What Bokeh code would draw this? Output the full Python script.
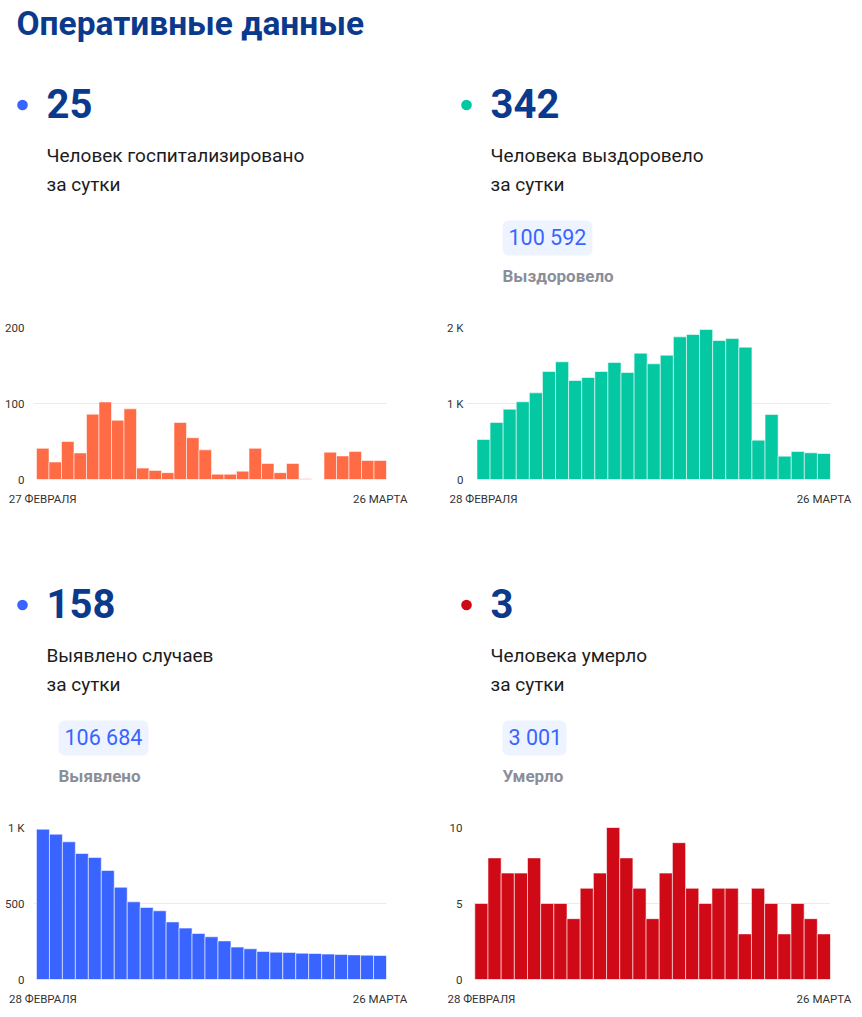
from bokeh.plotting import figure
from bokeh.layouts import column, row
from bokeh.models import Range1d, FixedTicker, ColumnDataSource
from bokeh.core.properties import value
from bokeh.embed import file_html
from bokeh.resources import INLINE

# ---------------- data ----------------
title_text = "Оперативные данные"

hosp_now = "25"
hosp_caption = ["Человек госпитализировано", "за сутки"]
hospitalized = [41, 23, 50, 35, 86, 102, 78, 93, 15, 12, 9, 75, 55, 39,
                7, 7, 11, 41, 21, 9, 21, 1, 0, 36, 31, 37, 25, 25]

rec_now = "342"
rec_caption = ["Человека выздоровело", "за сутки"]
rec_total = "100 592"
rec_total_label = "Выздоровело"
recovered = [526, 750, 925, 1022, 1140, 1421, 1548, 1303, 1342, 1421, 1539,
             1408, 1662, 1522, 1636, 1877, 1908, 1974, 1829, 1855, 1741,
             518, 855, 307, 368, 351, 342]

cases_now = "158"
cases_caption = ["Выявлено случаев", "за сутки"]
cases_total = "106 684"
cases_total_label = "Выявлено"
cases = [989, 956, 906, 829, 803, 717, 607, 511, 474, 452, 379, 338, 303,
         281, 254, 213, 202, 184, 180, 178, 173, 171, 167, 165, 162, 160, 158]

deaths_now = "3"
deaths_caption = ["Человека умерло", "за сутки"]
deaths_total = "3 001"
deaths_total_label = "Умерло"
deaths = [5, 8, 7, 7, 8, 5, 5, 4, 6, 7, 10, 8, 6, 4, 7, 9, 6, 5, 6, 6, 3,
          6, 5, 3, 5, 4, 3]

hosp_start = "27 ФЕВРАЛЯ"
other_start = "28 ФЕВРАЛЯ"
end_label = "26 МАРТА"

hosp_yticks = [0, 100, 200]
hosp_ylabels = ["0", "100", "200"]
rec_yticks = [0, 1000, 2000]
rec_ylabels = ["0", "1 K", "2 K"]
cases_yticks = [0, 500, 1000]
cases_ylabels = ["0", "500", "1 K"]
deaths_yticks = [0, 5, 10]
deaths_ylabels = ["0", "5", "10"]

# ---------------- styles ----------------
FONT = value("Roboto")
DARK_BLUE = "#0b3a8c"
BLUE = "#3a64ff"
GREEN = "#03c8a2"
RED = "#cf0a16"
ORANGE = "#ff6b45"
BADGE_BG = "#eef4ff"
GRAY = "#8a8e99"
TEXT = "#1c1c1c"
AXIS_TEXT = "#333333"

HEADER_W = 854
CHART_H = 193
BASE_K = 0.4  # baseline correction factor for svg text placement


def put_text(p, x, y, texts, size, color, bold=False):
    fs = float(size)
    ys = [yy - BASE_K * fs for yy in y]
    p.text(x=x, y=ys, text=texts, text_font=FONT,
           text_font_size=value(f"{size}px"),
           text_font_style="bold" if bold else "normal",
           text_color=color, text_baseline="alphabetic")


def header(with_title, panels, height, dy):
    p = figure(width=HEADER_W, height=height,
               x_range=Range1d(0, HEADER_W), y_range=Range1d(height, 0),
               output_backend="svg", toolbar_location=None, min_border=0)
    p.axis.visible = False
    p.grid.visible = False
    p.outline_line_color = None
    if with_title:
        put_text(p, [16], [28.5 + dy], [title_text], 33.5, DARK_BLUE,
                 bold=True)
    for pan in panels:
        x0 = pan["x"]
        p.circle(x=[x0 - 24], y=[96.5 + dy], radius=5.3,
                 fill_color=pan["dot"], line_color=None)
        put_text(p, [x0], [110.8 + dy], [pan["now"]], 40, DARK_BLUE,
                 bold=True)
        put_text(p, [x0, x0], [154.8 + dy, 184 + dy], pan["caption"], 19,
                 TEXT)
        if pan.get("total"):
            bx = x0 + 12
            p.quad(left=[bx], right=[bx + pan["bw"]], top=[212 + dy],
                   bottom=[247 + dy], fill_color=BADGE_BG, line_color=None,
                   border_radius=6)
            put_text(p, [bx + 6], [237.7 + dy], [pan["total"]], 21.5, BLUE)
            put_text(p, [bx], [274.3 + dy], [pan["total_label"]], 17, GRAY,
                     bold=True)
    return p


def bar_chart(vals, color, yticks, ylabels, start_label, width, border_left,
              border_right, x_start, standoff):
    n = len(vals)
    idx = list(range(n))
    p = figure(width=width, height=CHART_H,
               x_range=Range1d(x_start, n - 0.5),
               y_range=Range1d(yticks[0], yticks[-1]),
               output_backend="svg", toolbar_location=None,
               min_border_left=border_left, min_border_right=border_right,
               min_border_top=12, min_border_bottom=29)
    p.outline_line_color = None
    p.xgrid.visible = False
    p.ygrid.ticker = FixedTicker(ticks=yticks)
    p.ygrid.grid_line_color = "#ebebeb"
    p.ygrid.grid_line_width = 1
    src = ColumnDataSource(dict(x=idx, top=vals))
    p.vbar(x="x", top="top", width=1, source=src, fill_color=color,
           line_color="white", line_alpha=0.55, line_width=1)

    p.yaxis.ticker = FixedTicker(ticks=yticks)
    p.yaxis.major_label_overrides = {t: l for t, l in zip(yticks, ylabels)}
    p.xaxis.ticker = FixedTicker(ticks=[0, n - 1])
    p.xaxis.major_label_overrides = {0: start_label, n - 1: end_label}
    for ax in (p.xaxis, p.yaxis):
        ax.axis_line_color = None
        ax.major_tick_line_color = None
        ax.minor_tick_line_color = None
        ax.major_tick_out = 0
        ax.major_tick_in = 0
        ax.major_label_text_font = "Roboto"
        ax.major_label_text_color = AXIS_TEXT
    p.yaxis.major_label_text_font_size = "11.5px"
    p.yaxis.major_label_standoff = standoff
    p.xaxis.major_label_text_font_size = "11.5px"
    p.xaxis.major_label_standoff = 12
    return p


top_header = header(True, [
    dict(x=46, dot=BLUE, now=hosp_now, caption=hosp_caption),
    dict(x=490, dot=GREEN, now=rec_now, caption=rec_caption,
         total=rec_total, total_label=rec_total_label, bw=90),
], 315, 8)
bottom_header = header(False, [
    dict(x=46, dot=BLUE, now=cases_now, caption=cases_caption,
         total=cases_total, total_label=cases_total_label, bw=90),
    dict(x=490, dot=RED, now=deaths_now, caption=deaths_caption,
         total=deaths_total, total_label=deaths_total_label, bw=64),
], 307, 0)

c1 = bar_chart(hospitalized, ORANGE, hosp_yticks, hosp_ylabels, hosp_start,
               431, 33, 45, -0.74, 9)
c2 = bar_chart(recovered, GREEN, rec_yticks, rec_ylabels, other_start,
               423, 35, 24, -1.3, 3)
c3 = bar_chart(cases, BLUE, cases_yticks, cases_ylabels, other_start,
               431, 33, 45, -0.73, 9)
c4 = bar_chart(deaths, RED, deaths_yticks, deaths_ylabels, other_start,
               423, 42, 24, -0.6, 11)

layout = column(top_header, row(c1, c2), bottom_header, row(c3, c4))

with open("out.html", "w") as f:
    f.write(file_html(layout, INLINE))
